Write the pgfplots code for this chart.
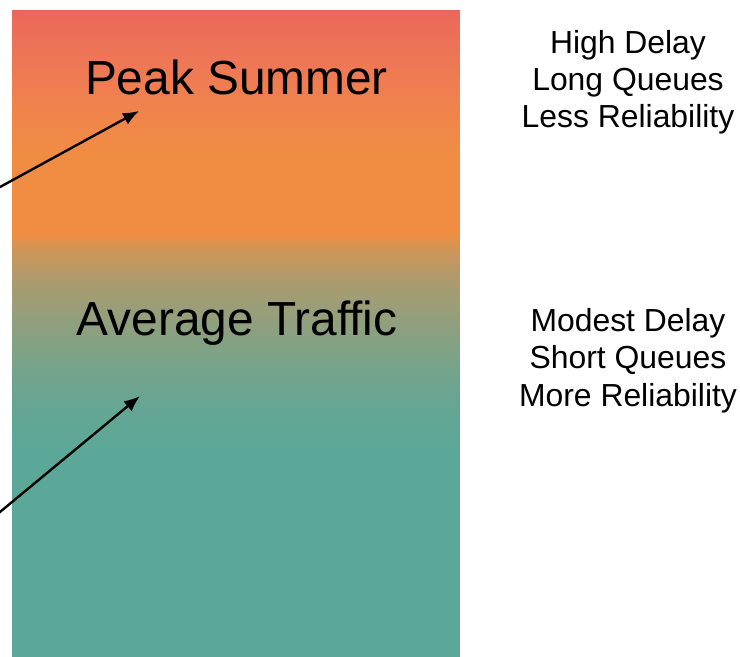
\documentclass[border=0pt]{standalone}
\usepackage{pgfplots}
\pgfplotsset{compat=1.18}
\usepackage{fontspec}
\setmainfont{Liberation Sans}
\usetikzlibrary{arrows.meta}
\pgfplotsset{colormap={traffic}{
 rgb255(0cm)=(91,168,152);
 rgb255(2.02cm)=(91,168,152);
 rgb255(2.50cm)=(101,166,148);
 rgb255(2.84cm)=(115,164,141);
 rgb255(3.17cm)=(134,161,131);
 rgb255(3.47cm)=(152,158,121);
 rgb255(3.77cm)=(172,155,110);
 rgb255(4.07cm)=(207,150,88);
 rgb255(4.24cm)=(241,141,66);
 rgb255(4.97cm)=(241,141,66);
 rgb255(5.37cm)=(240,134,74);
 rgb255(5.97cm)=(238,119,86);
 rgb255(6.47cm)=(235,103,91)}}
\begin{document}
\begin{tikzpicture}
\begin{axis}[
  view={0}{90},
  scale only axis, width=740bp, height=657bp,
  xmin=0, xmax=740, ymin=0, ymax=657, zmin=0, zmax=1,
  hide axis, clip=true,
  colormap name=traffic,
  point meta min=0, point meta max=647,
]
\addplot3[surf, shader=interp, point meta=y] coordinates {
(12,0,0) (460,0,0)

(12,202,0) (460,202,0)

(12,250,0) (460,250,0)

(12,284,0) (460,284,0)

(12,317,0) (460,317,0)

(12,347,0) (460,347,0)

(12,377,0) (460,377,0)

(12,407,0) (460,407,0)

(12,424,0) (460,424,0)

(12,497,0) (460,497,0)

(12,537,0) (460,537,0)

(12,597,0) (460,597,0)

(12,647,0) (460,647,0)
};
\addplot3[black, line width=2.4bp, -{Latex[length=16bp,width=13bp]}] coordinates {(-40,448.1,0) (139,546,0)};
\addplot3[black, line width=2.4bp, -{Latex[length=16bp,width=13bp]}] coordinates {(-40,111.9,0) (140,261,0)};
\node[anchor=base, inner sep=0pt, font=\fontsize{48}{56}\selectfont] at (axis cs:236.5,562,0) {Peak Summer};
\node[anchor=base, inner sep=0pt, font=\fontsize{48}{56}\selectfont] at (axis cs:237,321,0) {Average Traffic};
\node[anchor=base, inner sep=0pt, font=\fontsize{32}{37}\selectfont] at (axis cs:628,603.7,0) {High Delay};
\node[anchor=base, inner sep=0pt, font=\fontsize{32}{37}\selectfont] at (axis cs:628,566,0) {Long Queues};
\node[anchor=base, inner sep=0pt, font=\fontsize{32}{37}\selectfont] at (axis cs:628,529,0) {Less Reliability};
\node[anchor=base, inner sep=0pt, font=\fontsize{32}{37}\selectfont] at (axis cs:628,325.3,0) {Modest Delay};
\node[anchor=base, inner sep=0pt, font=\fontsize{32}{37}\selectfont] at (axis cs:628,288,0) {Short Queues};
\node[anchor=base, inner sep=0pt, font=\fontsize{32}{37}\selectfont] at (axis cs:628,250.3,0) {More Reliability};
\end{axis}
\pgfresetboundingbox
\useasboundingbox (current axis.south west) rectangle (current axis.north east);
\end{tikzpicture}
\end{document}
